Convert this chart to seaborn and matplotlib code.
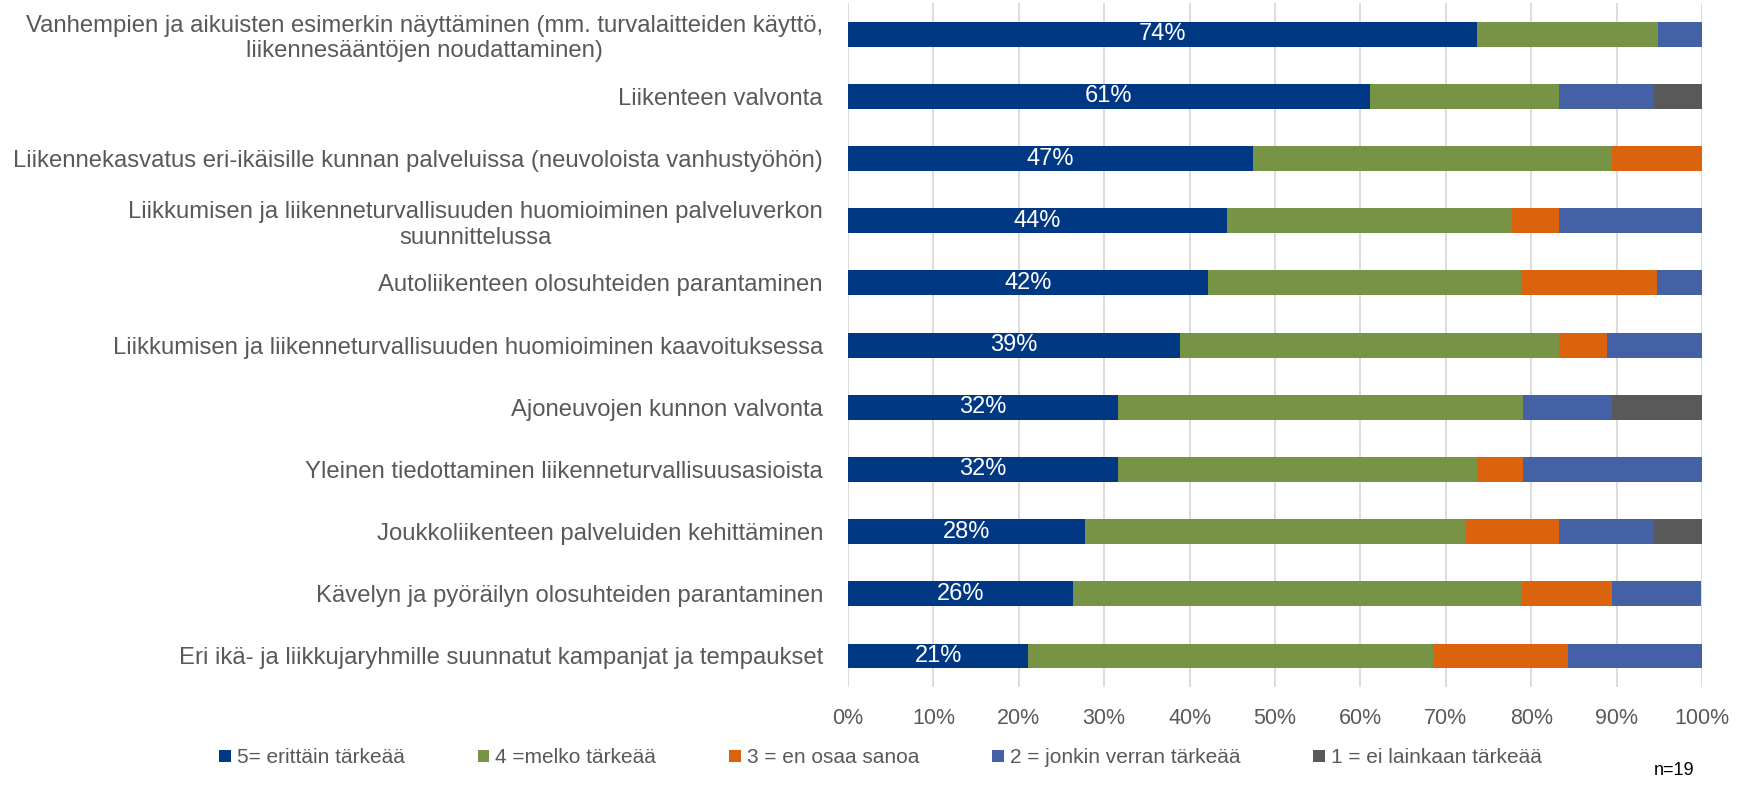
import matplotlib
matplotlib.use("Agg")
import matplotlib.pyplot as plt
import seaborn as sns
import pandas as pd
import numpy as np

# categories, top to bottom
labels = [
    "Vanhempien ja aikuisten esimerkin näyttäminen (mm. turvalaitteiden käyttö,\nliikennesääntöjen noudattaminen)",
    "Liikenteen valvonta",
    "Liikennekasvatus eri-ikäisille kunnan palveluissa (neuvoloista vanhustyöhön)",
    "Liikkumisen ja liikenneturvallisuuden huomioiminen palveluverkon\nsuunnittelussa",
    "Autoliikenteen olosuhteiden parantaminen",
    "Liikkumisen ja liikenneturvallisuuden huomioiminen kaavoituksessa",
    "Ajoneuvojen kunnon valvonta",
    "Yleinen tiedottaminen liikenneturvallisuusasioista",
    "Joukkoliikenteen palveluiden kehittäminen",
    "Kävelyn ja pyöräilyn olosuhteiden parantaminen",
    "Eri ikä- ja liikkujaryhmille suunnatut kampanjat ja tempaukset",
]

# shares in percent
s5 = [73.7, 61.1, 47.4, 44.4, 42.1, 38.9, 31.6, 31.6, 27.8, 26.3, 21.1]
s4 = [21.1, 22.2, 42.1, 33.3, 36.8, 44.4, 47.4, 42.1, 44.4, 52.6, 47.4]
s3 = [0.0, 0.0, 10.5, 5.6, 15.8, 5.6, 0.0, 5.3, 11.1, 10.5, 15.8]
s2 = [5.3, 11.1, 0.0, 16.7, 5.3, 11.1, 10.5, 21.1, 11.1, 10.5, 15.8]
s1 = [0.0, 5.6, 0.0, 0.0, 0.0, 0.0, 10.5, 0.0, 5.6, 0.0, 0.0]

series_names = ["5= erittäin tärkeää", "4 =melko tärkeää", "3 = en osaa sanoa",
                "2 = jonkin verran tärkeää", "1 = ei lainkaan tärkeää"]
colors = ["#003883", "#779345", "#DB630E", "#4461A6", "#595959"]

sns.set_theme(style="white")
plt.rcParams["font.family"] = ["Liberation Sans", "DejaVu Sans"]
text_col = "#595959"

df = pd.DataFrame({"label": labels, "s5": s5, "s4": s4, "s3": s3, "s2": s2, "s1": s1})
cols = ["s5", "s4", "s3", "s2", "s1"]
cum = df[cols].cumsum(axis=1)

fig = plt.figure(figsize=(17.47, 7.87), dpi=100)
ax = fig.add_axes([0.4854, 0.127, 0.4889, 0.869])

# draw cumulative totals from the right end back, so each layer shows its own segment
for col, name, c in reversed(list(zip(cols, series_names, colors))):
    sns.barplot(x=cum[col], y=df["label"], orient="h", color=c, width=0.4,
                linewidth=0, saturation=1, ax=ax, label=name, zorder=3)

for i, v in enumerate(s5):
    ax.text(v / 2, i, f"{v:.0f}%", ha="center", va="center", color="white",
            fontsize=17, zorder=5)

ax.set_xlim(0, 100)
ax.set_ylim(10.5, -0.5)
ax.set_xticks(np.arange(0, 101, 10))
ax.set_xticklabels([f"{t}%" for t in range(0, 101, 10)])
ax.xaxis.grid(True, color="#D9D9D9", linewidth=1.3, zorder=0)
ax.set_axisbelow(True)
ax.set_xlabel("")
ax.set_ylabel("")
ax.tick_params(axis="both", length=0, colors=text_col)
ax.tick_params(axis="y", pad=18, labelsize=17.2)
ax.tick_params(axis="x", pad=15, labelsize=15.5)
for lab in ax.get_yticklabels():
    lab.set_multialignment("center")
for sp in ax.spines.values():
    sp.set_visible(False)

handles, leg_labels = ax.get_legend_handles_labels()
if ax.get_legend() is not None:
    ax.get_legend().remove()
order = [leg_labels.index(n) for n in series_names]
fig.legend([handles[i] for i in order], series_names, loc="center",
           bbox_to_anchor=(0.504, 0.037), ncol=5, frameon=False, fontsize=15,
           handlelength=0.55, handleheight=0.55, handletextpad=0.3, columnspacing=3.5,
           labelcolor=text_col)

fig.text(0.958, 0.0216, "n=19", fontsize=13, color="black", ha="center", va="center")

fig.savefig("out.png", dpi=100)
